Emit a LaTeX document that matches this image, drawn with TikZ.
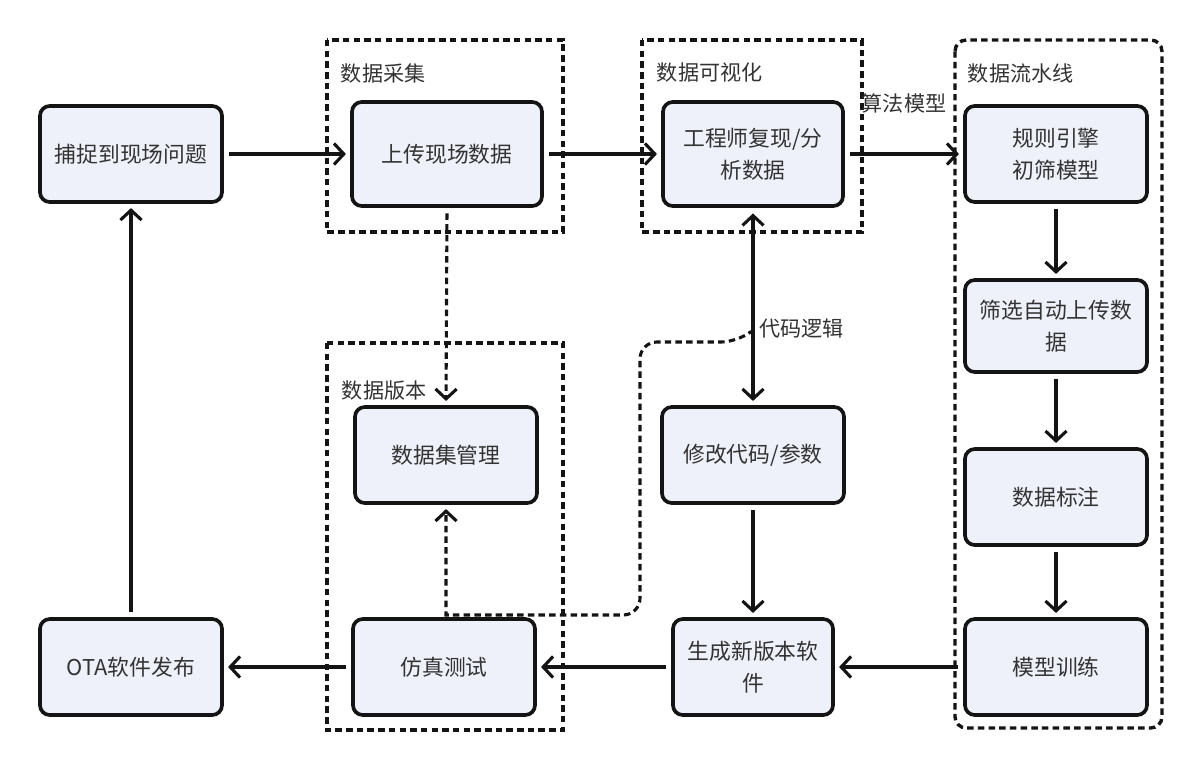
\documentclass[tikz,border=0pt]{standalone}
\usepackage{fontspec}
\setmainfont{Noto Sans CJK SC}
\usetikzlibrary{arrows.meta}

\definecolor{boxfill}{HTML}{EEF1F9}
\definecolor{ink}{HTML}{141414}
\definecolor{txt}{HTML}{333333}

\tikzset{
  stepbox/.style={draw=ink, line width=2.6pt, fill=boxfill, rounded corners=7pt,
    minimum width=4.55cm, minimum height=2.4cm, align=center, text=txt,
    font=\fontsize{15.5}{22.5}\selectfont},
  flow/.style={draw=ink, line width=2.2pt, ->, shorten <=4pt, shorten >=3pt},
  dashline/.style={dash pattern=on 4.6pt off 3pt},
  group/.style={draw=ink, line width=2.4pt, dashline},
  grouplabel/.style={anchor=west, text=txt, font=\fontsize{15}{18}\selectfont},
  linklabel/.style={text=txt, font=\fontsize{15}{18}\selectfont}
}

\begin{document}
\begin{tikzpicture}[x=0.025cm, y=-0.025cm, >={Straight Barb[length=7pt,width=15pt]}]
      \useasboundingbox[fill=white] (0,0) rectangle (1200,770);

      % groups
      \draw[group] (327,40) rectangle (563,232);
      \node[grouplabel] (lblcollect) at (336,73) {数据采集};
      \draw[group] (642,40) rectangle (862,232);
      \node[grouplabel] (lblvisual) at (652,73) {数据可视化};
      \draw[group, rounded corners=8pt] (955,40) rectangle (1162,728);
      \node[grouplabel] (lblpipe) at (963,73) {数据流水线};
      \draw[group] (327,343) rectangle (563,730);
      \node[grouplabel] (lblversion) at (337,391) {数据版本};

      % steps
      \node[stepbox] (capture) at (131,154) {捕捉到现场问题};
      \node[stepbox, minimum width=4.75cm, minimum height=2.6cm] (upload) at (447,154) {上传现场数据};
      \node[stepbox, minimum width=4.5cm, minimum height=2.6cm] (analyse) at (753,154) {工程师复现/分\\析数据};
      \node[stepbox] (rules) at (1056,154) {规则引擎\\初筛模型};
      \node[stepbox, minimum height=2.3cm] (filter) at (1056,326) {筛选自动上传数\\据};
      \node[stepbox] (annotate) at (1056,497) {数据标注};
      \node[stepbox] (train) at (1056,667) {模型训练};
      \node[stepbox] (dataset) at (446,455) {数据集管理};
      \node[stepbox] (modify) at (753,455) {修改代码/参数};
      \node[stepbox] (simtest) at (444,667) {仿真测试};
      \node[stepbox, minimum width=4cm] (newsw) at (753,667) {生成新版本软\\件};
      \node[stepbox] (ota) at (131,667) {OTA软件发布};

      % main loop
      \draw[flow] (capture) -- (upload);
      \draw[flow] (upload) -- (analyse);
      \draw[flow] (analyse) -- node[linklabel, midway, yshift=1.27cm] (algo) {算法模型} (rules);
      \draw[flow] (rules) -- (filter);
      \draw[flow] (filter) -- (annotate);
      \draw[flow] (annotate) -- (train);
      \draw[flow] (train) -- (newsw);
      \draw[flow] (newsw) -- (simtest);
      \draw[flow] (simtest) -- (ota);
      \draw[flow] (ota) -- (capture);
      \draw[flow] (modify) -- (newsw);
      \draw[flow, <->] (analyse) -- node[linklabel, pos=0.61, right] (code) {代码逻辑} (modify);

      % data version links
      \draw[flow, dashline] (upload.south) -- (dataset.north);
      \coordinate (tap) at (753,330);
      \draw[flow, dashline, rounded corners=12pt] (tap) -- (738,342) -- (640,342) -- (640,615)
        [sharp corners] -- (446,615) -- (dataset.south);
    \end{tikzpicture}
\end{document}
